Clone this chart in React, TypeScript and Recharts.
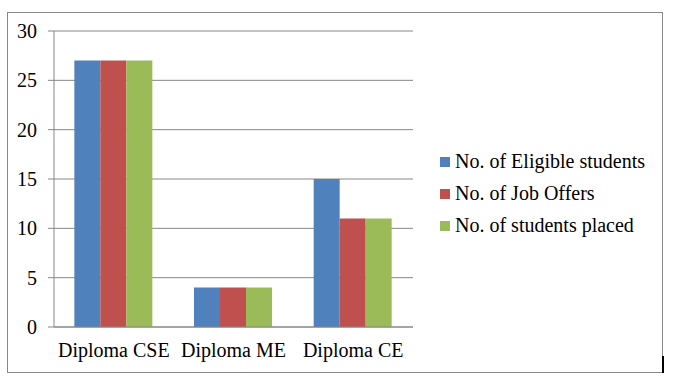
import React from "react";
import { BarChart, Bar, XAxis, YAxis, CartesianGrid } from "recharts";

const categories = ["Diploma CSE", "Diploma ME", "Diploma CE"];
const eligible = [27, 4, 15];
const offers = [27, 4, 11];
const placed = [27, 4, 11];
const yTicks = [0, 5, 10, 15, 20, 25, 30];
const edgeTicks = [0, 1, 2, 3];

const seriesKeys = ["eligible", "offers", "placed"];
const seriesNames = ["No. of Eligible students", "No. of Job Offers", "No. of students placed"];
const seriesColors = ["#4F81BD", "#C0504D", "#9BBB59"];

const data = categories.map((name, i) => ({
  name,
  eligible: eligible[i],
  offers: offers[i],
  placed: placed[i],
}));

const FONT = "'Liberation Serif', 'Times New Roman', serif";
const AXIS = "#878787";

function LegendBox() {
  return (
    <div style={{ position: "absolute", left: 440, top: 145, fontFamily: FONT, fontSize: 20, color: "#000" }}>
      {seriesNames.map((n, i) => (
        <div key={n} style={{ display: "flex", alignItems: "center", height: 32, whiteSpace: "nowrap" }}>
          <span style={{ width: 10, height: 10, background: seriesColors[i], marginRight: 5, marginTop: 1 }} />
          <span>{n}</span>
        </div>
      ))}
    </div>
  );
}

export default function App() {
  return (
    <div style={{ position: "absolute", left: 0, top: 0, width: 678, height: 386, background: "#fff" }}>
      <div
        style={{
          position: "absolute",
          left: 7,
          top: 12,
          width: 654,
          height: 359,
          border: `1px solid ${AXIS}`,
        }}
      />
      <div style={{ position: "absolute", left: 662, top: 356, width: 2, height: 17, background: "#000" }} />
      <div style={{ position: "absolute", left: 0, top: 0 }}>
        <BarChart
          width={678}
          height={386}
          data={data}
          margin={{ top: 31, right: 265, bottom: 29, left: 0 }}
          barCategoryGap="17%"
          barGap={0}
          style={{ fontFamily: FONT }}
        >
          <CartesianGrid vertical={false} stroke={AXIS} strokeWidth={1} />
          <XAxis
            xAxisId="edges"
            type="number"
            domain={[0, 3]}
            ticks={edgeTicks}
            allowDataOverflow
            height={0}
            tick={false}
            tickSize={6}
            axisLine={false}
            tickLine={{ stroke: AXIS }}
          />
          <XAxis
            dataKey="name"
            height={30}
            tickLine={false}
            axisLine={{ stroke: AXIS }}
            tickMargin={10}
            tick={{ fill: "#000", fontSize: 20, fontFamily: FONT }}
            interval={0}
          />
          <YAxis
            width={54}
            domain={[0, 30]}
            ticks={yTicks}
            tickSize={6}
            tickMargin={11}
            axisLine={{ stroke: AXIS }}
            tickLine={{ stroke: AXIS }}
            tick={{ fill: "#000", fontSize: 20, fontFamily: FONT }}
          />
          {seriesKeys.map((k, i) => (
            <Bar key={k} dataKey={k} name={seriesNames[i]} fill={seriesColors[i]} isAnimationActive={false} />
          ))}
        </BarChart>
      </div>
      <LegendBox />
    </div>
  );
}
